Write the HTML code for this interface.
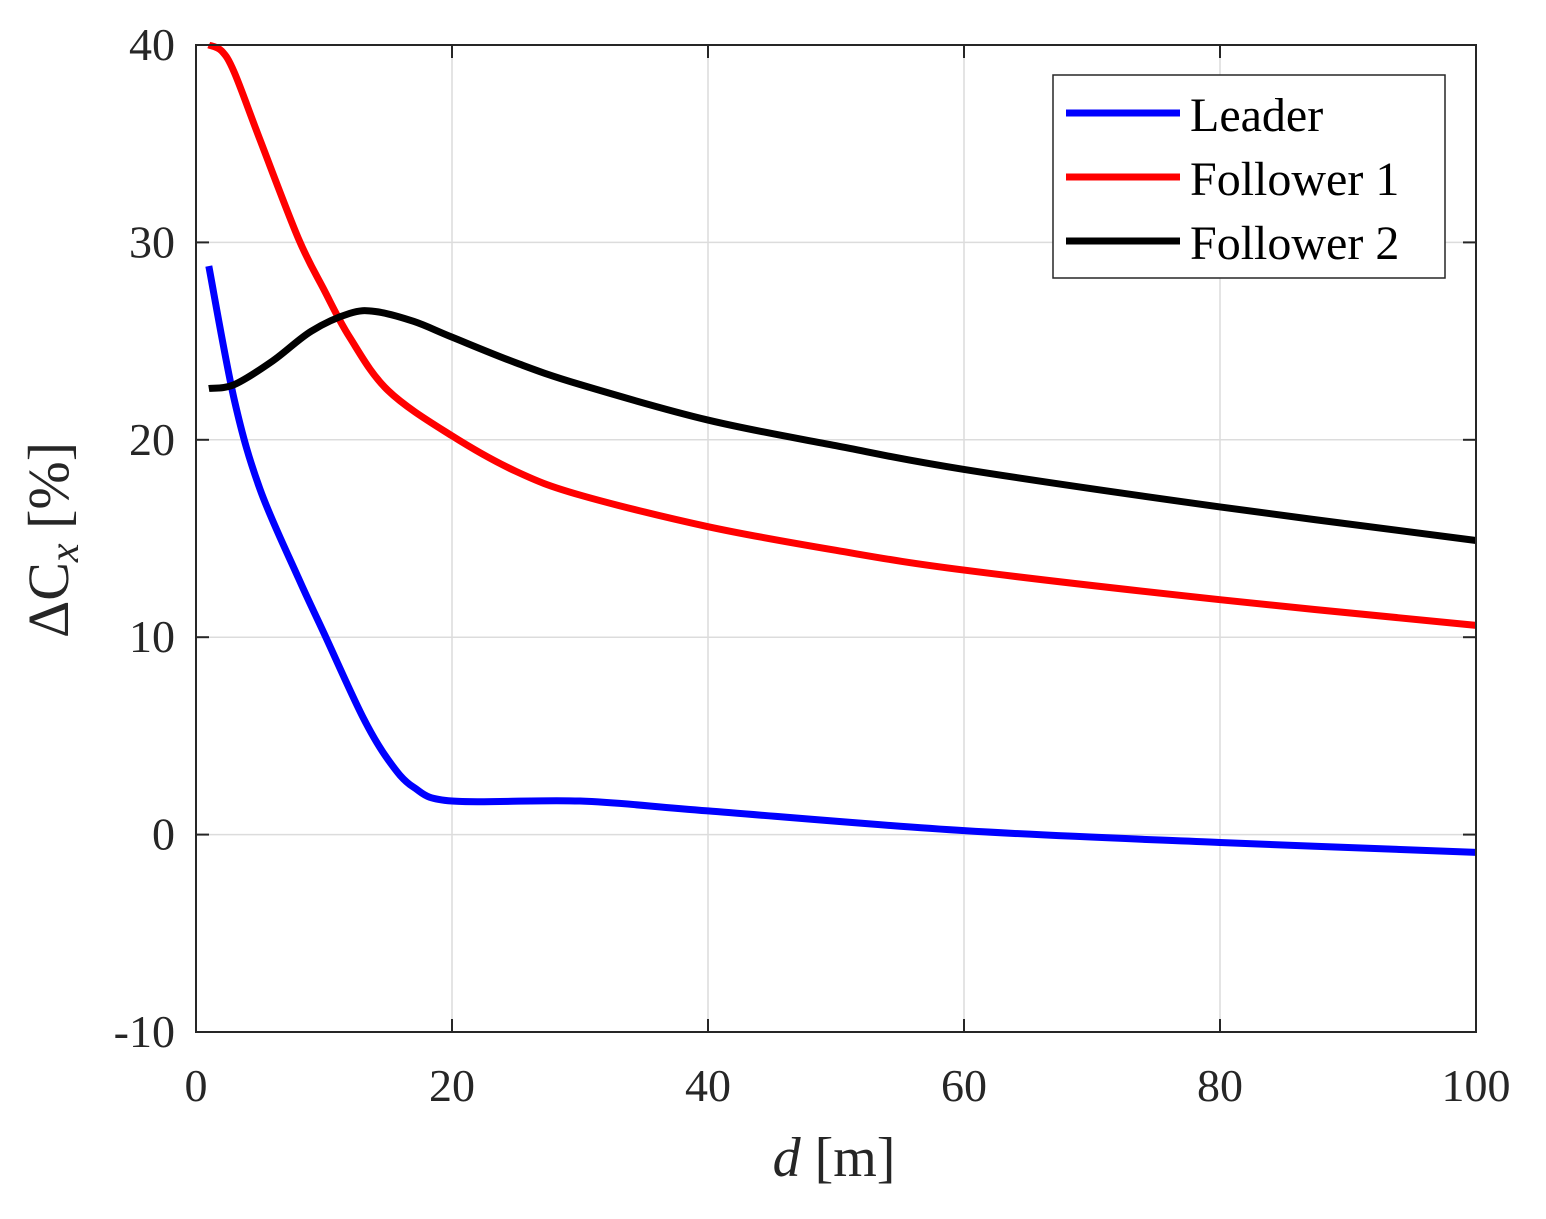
<!DOCTYPE html>
<html><head><meta charset="utf-8"><style>
body{margin:0;background:#fff}
svg text{font-family:"Liberation Serif",serif;fill:#262626}
</style></head><body>
<svg id="s" width="1546" height="1214" xmlns="http://www.w3.org/2000/svg">
<rect width="1546" height="1214" fill="#fff"/>
<g id="grid" stroke="#dcdcdc" stroke-width="1.5"></g>
<g id="curves" fill="none" stroke-width="7" stroke-linejoin="round" stroke-linecap="butt"></g>
<rect x="196" y="45" width="1280" height="987" fill="none" stroke="#262626" stroke-width="2"/>
<g id="ticks" stroke="#262626" stroke-width="2"></g>
<g id="labels" font-size="46"></g>
<text x="834" y="1176" font-size="56" text-anchor="middle"><tspan font-style="italic">d</tspan> [m]</text>
<text transform="translate(68,540) rotate(-90)" font-size="58" text-anchor="middle">ΔC<tspan font-style="italic" font-size="42" dy="10">x</tspan><tspan dy="-10"> [%]</tspan></text>
<rect x="1053" y="75" width="392" height="203" fill="#fff" stroke="#262626" stroke-width="1.5"/>
<line x1="1066" y1="113" x2="1180" y2="113" stroke="#0000ff" stroke-width="7"/>
<line x1="1066" y1="177" x2="1180" y2="177" stroke="#ff0000" stroke-width="7"/>
<line x1="1066" y1="241" x2="1180" y2="241" stroke="#000" stroke-width="7"/>
<text x="1190" y="131" font-size="48" style="fill:#000">Leader</text>
<text x="1190" y="195" font-size="48" style="fill:#000">Follower 1</text>
<text x="1190" y="259" font-size="48" style="fill:#000">Follower 2</text>
</svg>
<script>
const X=d=>196+d*12.8, Y=v=>45+(40-v)*19.74;
const ns="http://www.w3.org/2000/svg";
function el(p,t,a,txt){const e=document.createElementNS(ns,t);for(const k in a)e.setAttribute(k,a[k]);if(txt!==undefined)e.textContent=txt;document.getElementById(p).appendChild(e);}
for(let d=20;d<100;d+=20)el("grid","line",{x1:X(d),x2:X(d),y1:45,y2:1032});
for(let v=-0;v<40;v+=10)el("grid","line",{x1:196,x2:1476,y1:Y(v),y2:Y(v)});
for(let d=0;d<=100;d+=20){el("ticks","line",{x1:X(d),x2:X(d),y1:1032,y2:1019});el("ticks","line",{x1:X(d),x2:X(d),y1:45,y2:58});
el("labels","text",{x:X(d),y:1101,"text-anchor":"middle"},d);}
for(let v=-10;v<=40;v+=10){el("ticks","line",{x1:196,x2:209,y1:Y(v),y2:Y(v)});el("ticks","line",{x1:1476,x2:1463,y1:Y(v),y2:Y(v)});
el("labels","text",{x:175,y:Y(v)+15,"text-anchor":"end"},v);}
function path(pts,col){const P=pts.map(p=>[X(p[0]),Y(p[1])]);let s="M"+P[0];
for(let i=0;i<P.length-1;i++){const p0=P[i-1]||P[i],p1=P[i],p2=P[i+1],p3=P[i+2]||P[i+1];
s+=`C${p1[0]+(p2[0]-p0[0])/6},${p1[1]+(p2[1]-p0[1])/6} ${p2[0]-(p3[0]-p1[0])/6},${p2[1]-(p3[1]-p1[1])/6} ${p2[0]},${p2[1]}`;}
el("curves","path",{d:s,stroke:col});}
path([[1,28.8],[3,22],[5,17.5],[8,13],[10,10.2],[13,6],[15,3.8],[17,2.4],[20,1.7],[30,1.7],[40,1.2],[60,0.2],[80,-0.4],[100,-0.9]],"#0000ff");
path([[1,40],[2,39.7],[3,38.6],[5,35.2],[8,30.2],[10,27.6],[12,25.2],[15,22.5],[20,20.2],[25,18.4],[30,17.2],[40,15.6],[50,14.4],[60,13.4],[80,11.9],[100,10.6]],"#ff0000");
path([[1,22.6],[3,22.8],[6,24],[9,25.5],[12,26.4],[14,26.5],[17,26.0],[20,25.2],[25,23.9],[30,22.8],[40,21.0],[50,19.7],[60,18.5],[80,16.6],[100,14.9]],"#000");
</script>
</body></html>
